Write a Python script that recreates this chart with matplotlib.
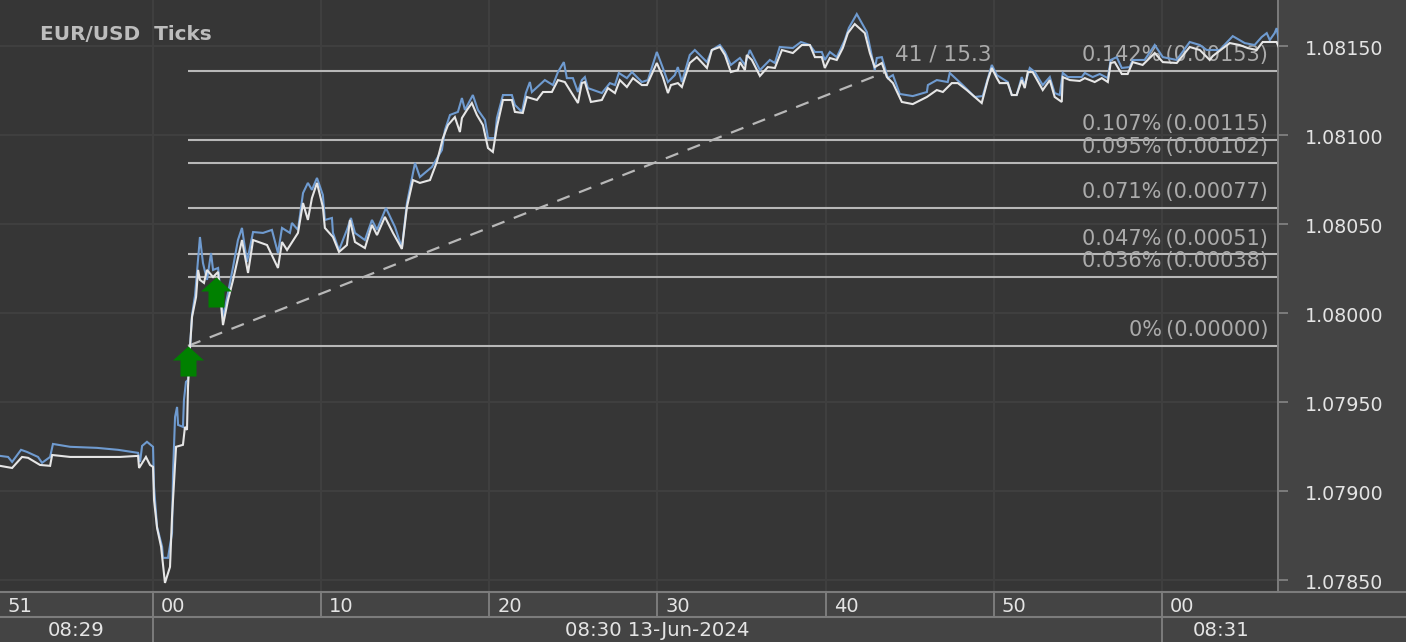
# plot.py - EUR/USD tick chart with fibonacci levels

import matplotlib
matplotlib.use("Agg")
import numpy as np
import matplotlib.pyplot as plt
from matplotlib.path import Path
from matplotlib.transforms import ScaledTranslation

W, H, STRIP = 1406, 642, 50
PANEL = "#444444"
PLOT_BG = "#363636"
GRID = "#404040"
EDGE = "#7c7c7c"
TXT = "#e4e4e4"
FIB = "#b8b8b8"
FIB_TXT = "#ababab"

# seconds after 08:30:00, and prices as points (1e-5) above 1.08000
bid_t = [-9.10, -8.38, -7.79, -7.43, -6.72, -6.12, -6.00, -4.93, -1.96, -0.89, -0.83, -0.42, -0.18, 0, 0.06, 0.24, 0.48, 0.71, 1.01, 1.13, 1.37, 1.78, 1.90, 2.02, 2.08, 2.20, 2.32, 2.56, 2.68, 2.79, 3.03, 3.21, 3.57, 3.87, 4.16, 4.46, 4.76, 5.29, 5.65, 5.95, 6.78, 7.43, 7.67, 7.97, 8.62, 8.92, 9.21, 9.45, 9.75, 10.10, 10.22, 10.70, 11.06, 11.53, 11.71, 12.01, 12.60, 13.02, 13.32, 13.79, 14.27, 14.80, 15.10, 15.46, 15.87, 16.47, 16.88, 17.24, 17.54, 17.95, 18.25, 18.37, 18.67, 18.96, 19.26, 19.62, 19.92, 20.21, 20.45, 20.81, 21.34, 21.52, 21.99, 22.23, 22.83, 23.19, 23.72, 24.08, 24.49, 24.79, 25.27, 25.50, 25.68, 26.04, 26.69, 27.05, 27.47, 27.76, 28.18, 28.54, 29.07, 29.37, 29.96, 30.32, 30.62, 30.80, 31.21, 31.45, 31.92, 32.34, 32.94, 33.23, 33.71, 34.01, 34.36, 34.78, 34.90, 35.20, 35.31, 35.61, 36.09, 36.56, 36.98, 37.40, 38.05, 38.58, 39.06, 39.36, 39.77, 39.95, 40.25, 40.66, 41.02, 41.32, 41.73, 42.33, 42.63, 42.92, 43.34, 43.64, 44.00, 44.53, 45.18, 46.02, 46.61, 46.97, 47.50, 47.86, 48.39, 49.28, 49.64, 49.88, 50.18, 50.35, 50.83, 51.07, 51.36, 51.66, 51.84, 52.02, 52.31, 52.91, 53.33, 53.62, 54.04, 54.10, 54.52, 55.11, 55.41, 56.00, 56.42, 56.78, 56.95, 57.19, 57.61, 57.96, 58.26, 58.85, 59.57, 60.05, 60.88, 61.65, 62.25, 62.84, 63.02, 64.03, 64.62, 65.10, 65.63, 65.99, 66.82, 66.94]
bid_pts = [-86.1, -87.3, -81.1, -81.6, -85.6, -86.1, -80.0, -81.1, -81.1, -80.5, -87.3, -81.1, -85.6, -86.7, -105.2, -121.0, -131.6, -151.9, -142.9, -114.8, -75.4, -74.3, -64.2, -65.9, -41.7, -19.3, -2.4, 8.8, 24.0, 18.4, 16.7, 24.0, 20.0, 22.9, -7.0, 7.1, 18.4, 40.8, 22.3, 40.8, 38.0, 25.1, 39.7, 35.2, 44.8, 61.6, 52.1, 64.4, 72.9, 59.4, 47.6, 42.5, 34.1, 38.0, 52.1, 39.7, 36.3, 49.3, 43.6, 53.8, 44.8, 35.8, 59.4, 74.5, 72.9, 74.5, 84.7, 98.1, 105.4, 109.9, 101.5, 109.4, 113.9, 117.8, 111.1, 105.4, 92.5, 90.3, 104.3, 119.5, 119.5, 112.8, 112.2, 121.2, 119.5, 124.0, 124.0, 130.7, 129.6, 125.1, 117.8, 129.0, 129.6, 118.4, 119.5, 126.2, 123.4, 130.7, 126.8, 131.8, 127.9, 127.9, 140.3, 132.4, 123.4, 127.9, 129.0, 126.8, 140.3, 143.6, 137.5, 147.6, 149.3, 144.8, 135.2, 136.3, 140.8, 136.3, 144.8, 142.0, 133.0, 138.0, 137.5, 147.6, 145.9, 150.4, 150.4, 143.6, 143.6, 137.5, 143.1, 142.0, 148.7, 157.1, 162.2, 157.1, 145.9, 138.0, 140.3, 132.4, 129.0, 118.4, 117.2, 121.2, 125.1, 124.0, 129.0, 129.0, 125.1, 117.8, 130.7, 137.5, 131.8, 129.0, 129.0, 122.3, 122.3, 130.7, 126.2, 135.2, 135.2, 125.1, 130.7, 121.2, 118.4, 132.4, 130.7, 130.2, 131.8, 129.6, 131.8, 129.6, 140.3, 140.8, 134.1, 134.1, 140.8, 139.2, 145.9, 140.8, 140.3, 149.3, 147.6, 142.0, 144.2, 151.5, 150.4, 148.7, 147.6, 152.1, 152.1, 149.3]

ask_t = [-9.10, -8.62, -8.38, -7.85, -7.49, -6.84, -6.60, -6.12, -5.95, -4.93, -3.33, -2.08, -0.89, -0.77, -0.65, -0.36, 0, 0.06, 0.24, 0.54, 0.59, 0.89, 1.13, 1.19, 1.31, 1.43, 1.49, 1.78, 1.84, 1.96, 2.08, 2.32, 2.50, 2.79, 2.97, 3.21, 3.45, 3.57, 3.87, 4.16, 4.46, 4.76, 5.05, 5.29, 5.59, 5.95, 6.54, 7.07, 7.43, 7.67, 8.14, 8.26, 8.62, 8.92, 9.21, 9.45, 9.75, 10.10, 10.22, 10.64, 10.70, 11.06, 11.53, 11.77, 12.01, 12.60, 13.02, 13.32, 13.85, 14.39, 14.80, 15.10, 15.58, 15.87, 16.59, 17.18, 17.36, 17.66, 18.13, 18.37, 18.55, 19.02, 19.32, 19.74, 19.92, 20.33, 20.45, 20.81, 21.34, 21.52, 21.94, 22.17, 22.41, 22.53, 23.30, 23.78, 24.08, 24.43, 24.61, 24.97, 25.27, 25.50, 25.68, 25.86, 26.69, 27.17, 27.47, 27.70, 28.18, 28.48, 29.07, 29.43, 29.96, 30.32, 30.62, 31.03, 31.21, 31.45, 31.92, 32.22, 32.94, 33.23, 33.71, 34.01, 34.36, 34.90, 35.20, 35.49, 36.09, 36.68, 36.98, 37.27, 38.05, 38.53, 39.06, 39.36, 39.77, 39.95, 40.25, 40.66, 41.14, 41.38, 41.85, 42.45, 42.92, 43.04, 43.34, 43.70, 44.00, 44.41, 45.18, 46.02, 46.08, 46.61, 47.26, 47.38, 48.15, 48.87, 49.34, 49.88, 50.18, 50.83, 51.07, 51.36, 51.66, 51.84, 52.14, 52.44, 52.91, 53.33, 53.62, 53.92, 54.10, 54.40, 55.23, 55.41, 55.88, 56.30, 56.78, 56.95, 57.31, 57.61, 58.08, 58.26, 58.97, 59.57, 60.05, 60.88, 61.65, 62.25, 62.66, 63.43, 64.21, 64.92, 65.51, 65.93, 66.23, 66.41, 66.70, 66.82, 66.94]
ask_pts = [-80.5, -81.1, -83.9, -77.1, -78.3, -81.1, -84.4, -81.1, -73.8, -75.4, -76.0, -77.1, -78.8, -83.9, -74.9, -72.6, -75.4, -97.9, -120.4, -131.6, -137.8, -137.8, -123.8, -90.1, -58.6, -53.0, -63.1, -64.2, -49.0, -38.9, -37.8, -1.3, 9.9, 42.5, 27.9, 18.4, 33.5, 24.0, 25.1, -3.0, 11.1, 25.7, 40.8, 47.6, 28.5, 45.3, 44.8, 46.5, 33.5, 47.6, 44.8, 50.4, 46.5, 67.2, 72.9, 69.0, 75.7, 66.1, 52.1, 53.2, 44.8, 35.2, 46.5, 53.2, 44.8, 40.8, 52.1, 46.5, 58.8, 48.1, 36.3, 61.6, 84.1, 76.2, 81.9, 91.4, 102.6, 111.1, 112.8, 120.6, 113.9, 122.3, 113.9, 108.3, 98.1, 98.1, 109.4, 122.3, 122.3, 116.7, 112.8, 123.4, 129.6, 124.0, 130.7, 127.9, 135.2, 140.8, 131.8, 131.8, 124.0, 130.7, 132.4, 126.2, 123.4, 129.0, 127.9, 134.7, 131.8, 135.2, 129.6, 130.7, 146.5, 137.5, 129.6, 133.5, 138.0, 129.6, 144.8, 147.6, 140.8, 147.6, 150.4, 146.5, 139.2, 143.1, 139.2, 147.6, 136.3, 142.0, 140.3, 149.3, 148.7, 152.1, 150.4, 146.5, 146.5, 142.0, 146.5, 143.6, 153.2, 160.0, 167.8, 157.7, 136.3, 143.1, 143.6, 131.8, 133.5, 122.9, 121.7, 124.0, 127.9, 130.7, 129.6, 134.7, 127.9, 121.2, 121.7, 139.2, 133.5, 129.6, 122.3, 122.3, 132.4, 127.9, 137.5, 135.2, 127.9, 132.4, 123.4, 122.3, 134.7, 132.4, 132.4, 134.7, 132.4, 134.1, 131.8, 142.0, 143.6, 137.5, 138.0, 142.0, 142.0, 150.4, 143.6, 142.0, 152.1, 150.4, 147.6, 147.6, 155.4, 151.5, 150.4, 154.9, 157.1, 153.2, 157.1, 159.9, 153.2]

# fibonacci levels measured from the first entry
fib_start = 2.08
fib_levels = [1.079813, 1.080201, 1.080329, 1.080588, 1.080841, 1.080970, 1.081358]
fib_labels = ["0%\u2009(0.00000)", "0.036%\u2009(0.00038)", "0.047%\u2009(0.00051)", "0.071%\u2009(0.00077)",
              "0.095%\u2009(0.00102)", "0.107%\u2009(0.00115)", "0.142%\u2009(0.00153)"]

trend_t = [2.08, 43.5]
trend_price = [1.079813, 1.08135]

entry_t = [2.08, 3.75]
entry_price = [1.079813, 1.08020]

y_ticks = [1.07850, 1.07900, 1.07950, 1.08000, 1.08050, 1.08100, 1.08150]
sec_ticks = [0, 10, 20, 30, 40, 50, 60]
sec_labels = ["00", "10", "20", "30", "40", "50", "00"]
minute_edges = [0, 60]
minute_labels = ["08:29", "08:30 13-Jun-2024", "08:31"]
minute_pos = [-4.55, 29.96, 63.5]

plt.rcParams["font.family"] = "DejaVu Sans"
fig = plt.figure(figsize=(W / 100, H / 100), dpi=100, facecolor=PANEL)
ax = fig.add_axes([0, STRIP / H, 1278 / W, 592 / H], facecolor=PLOT_BG)
ax.set_xlim(-9.1, 66.9)
ax.set_ylim(1.07843, 1.081757)

ax.set_xticks(sec_ticks)
ax.tick_params(axis="x", length=0, labelbottom=False)
ax.yaxis.tick_right()
ax.set_yticks(y_ticks)
ax.set_yticklabels([f"{v:.5f}" for v in y_ticks])
ax.tick_params(axis="y", length=7, width=1.4, color=EDGE, labelcolor=TXT, labelsize=13.7, pad=12)
# the value labels sit a little under their ticks
shift = ScaledTranslation(0, -2 / 100, fig.dpi_scale_trans)
for lab in ax.get_yticklabels():
    lab.set_transform(lab.get_transform() + shift)
ax.grid(True, color=GRID, lw=1.4)
ax.set_axisbelow(True)
for name, sp in ax.spines.items():
    sp.set_visible(name == "right")
    sp.set_color(EDGE)
    sp.set_linewidth(1.4)

for level, lab in zip(fib_levels, fib_labels):
    ax.plot([fib_start, 66.9], [level, level], color=FIB, lw=1.5, zorder=2, solid_capstyle="butt")
    ax.annotate(lab, (66.9, level), xytext=(-7, 4), textcoords="offset points", ha="right", va="bottom",
                color=FIB_TXT, fontsize=15, zorder=2.5)

ax.plot(trend_t, trend_price, color=FIB, lw=1.6, dashes=(6, 4.5), zorder=2)
ax.text(44.1, 1.08145, "41 / 15.3", color=FIB_TXT, fontsize=15.6, va="center", zorder=2.5)

ask = 1.08 + np.array(ask_pts) * 1e-5
bid = 1.08 + np.array(bid_pts) * 1e-5
ax.plot(ask_t, ask, color="#6f9bd0", lw=1.5, zorder=3, solid_joinstyle="miter")
ax.plot(bid_t, bid, color="#e6e6e6", lw=1.5, zorder=4, solid_joinstyle="miter")

# up arrow with its tip on the data point
arrow = Path([(0, 0), (15.5, -14), (8, -14), (8, -30), (-8, -30), (-8, -14), (-15.5, -14), (0, 0)], closed=True)
ax.plot(entry_t, entry_price, ls="none", marker=arrow, ms=60 * 72 / 100, mfc="#008000", mec="none", zorder=5)

ax.text(40 / 1278, 1 - 35 / 592, "EUR/USD  Ticks", transform=ax.transAxes, color="#bdbdbd", fontsize=14.4,
        fontweight="bold", va="center", zorder=6)

# time strip under the plot
strip = fig.add_axes([0, 0, 1278 / W, STRIP / H], sharex=ax)
strip.axis("off")
strip.set_ylim(0, 50)
for t, lab in zip(sec_ticks, sec_labels):
    strip.plot([t, t], [25, 50], color=EDGE, lw=1.4, clip_on=False)
    strip.text(t + 0.48, 36, lab, color=TXT, fontsize=14, va="center")
strip.text(-8.65, 36, "51", color=TXT, fontsize=14, va="center")
for t in minute_edges:
    strip.plot([t, t], [0, 25], color=EDGE, lw=1.4, clip_on=False)
for t, lab in zip(minute_pos, minute_labels):
    strip.text(t, 12, lab, color=TXT, fontsize=14.2, ha="center", va="center")

for py in [592, 617]:
    fig.add_artist(plt.Line2D([0, 1], [1 - py / H, 1 - py / H], color=EDGE, lw=1.5))

fig.savefig("out.png", dpi=100, facecolor=PANEL)
